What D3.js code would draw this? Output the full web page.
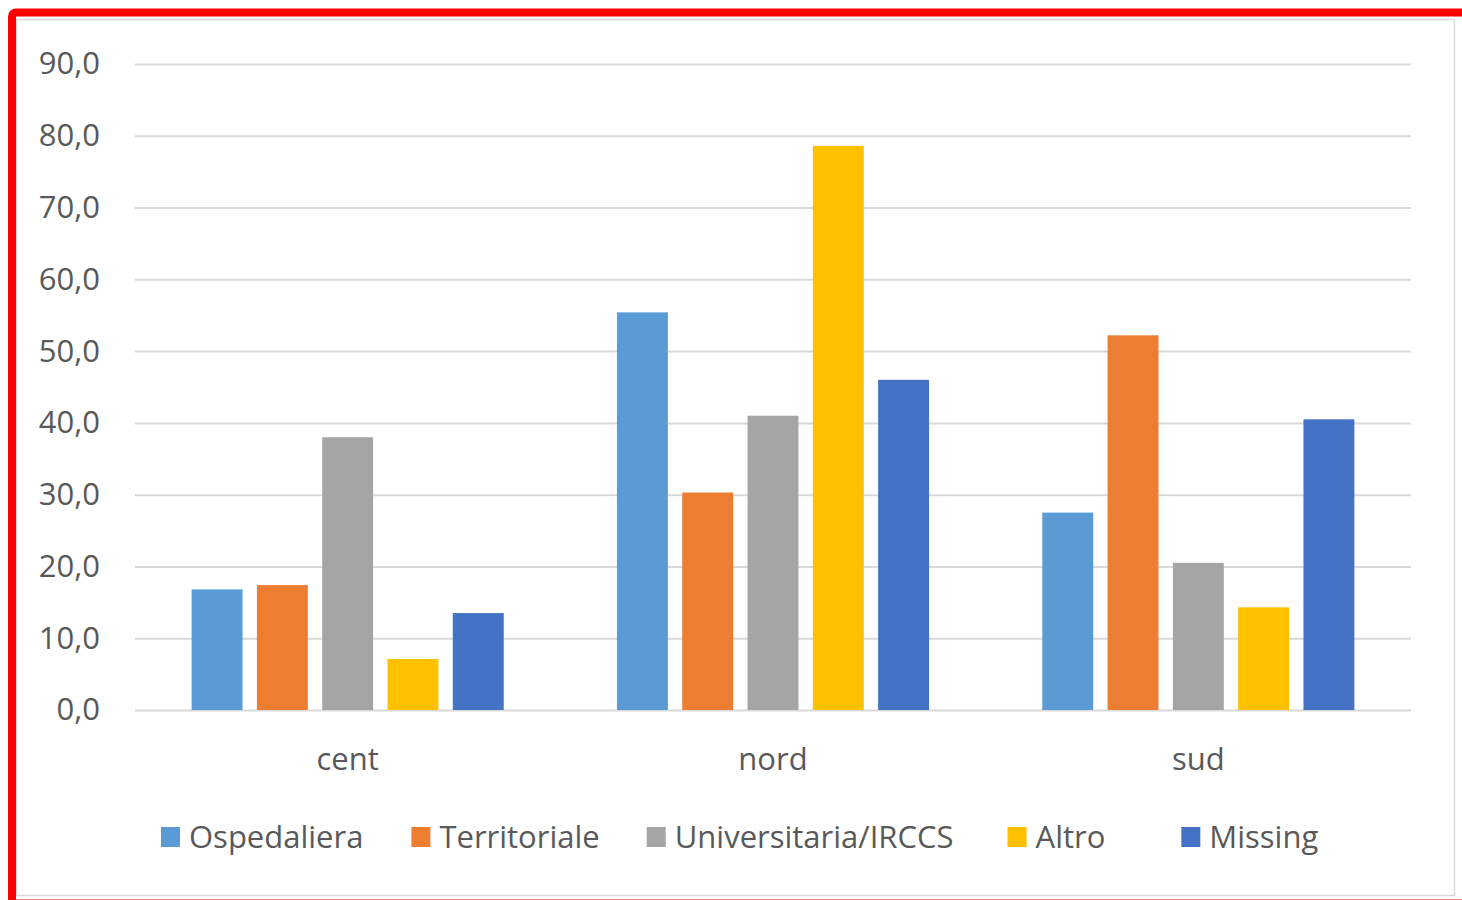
<!DOCTYPE html>
<html>
<head>
<meta charset="utf-8">
<script src="https://cdn.jsdelivr.net/npm/d3@7"></script>
<style>
  html, body { margin: 0; padding: 0; background: #fff; }
  svg { display: block; }
  text { font-family: "Open Sans", "Noto Sans", sans-serif; fill: #595959; }
</style>
</head>
<body>
<svg id="chart" width="1462" height="900"></svg>
<script>
// Regions (categories) and the five structure types (series)
const categories = ["cent", "nord", "sud"];
const seriesNames = ["Ospedaliera", "Territoriale", "Universitaria/IRCCS", "Altro", "Missing"];
const ospedaliera   = [16.8, 55.4, 27.5];
const territoriale  = [17.4, 30.3, 52.2];
const universitaria = [38.0, 41.0, 20.5];
const altro         = [7.1, 78.6, 14.3];
const missing       = [13.5, 46.0, 40.5];
const yTicks = [0, 10, 20, 30, 40, 50, 60, 70, 80, 90];
const seriesColors = ["#5B9BD5", "#ED7D31", "#A5A5A5", "#FFC000", "#4472C4"];

const seriesValues = [ospedaliera, territoriale, universitaria, altro, missing];
const rows = categories.map((c, i) => ({
  category: c,
  values: seriesNames.map((s, j) => ({ series: s, value: seriesValues[j][i], color: seriesColors[j] }))
}));

const svg = d3.select("#chart");
const plot = { left: 135, right: 1411, top: 64, bottom: 710 };

// Outer frames
svg.append("rect")
  .attr("x", 16.5).attr("y", 19.5).attr("width", 1438).attr("height", 876)
  .attr("fill", "#fff").attr("stroke", "#D9D9D9").attr("stroke-width", 1.5);
svg.append("rect")
  .attr("x", 12).attr("y", 12.5).attr("width", 1480).attr("height", 891)
  .attr("rx", 4).attr("fill", "none").attr("stroke", "#FF0000").attr("stroke-width", 8);

const x0 = d3.scaleBand().domain(categories).range([plot.left, plot.right]).padding(0);
const x1 = d3.scaleBand().domain(seriesNames).range([0, x0.bandwidth()])
  .paddingInner(0.22).paddingOuter(0.867);
const y = d3.scaleLinear().domain([0, 90]).range([plot.bottom, plot.top]);

const locale = d3.formatLocale({ decimal: ",", thousands: ".", grouping: [3], currency: ["", "€"] });
const fmt = locale.format(".1f");

// Horizontal gridlines + y tick labels
const yAxis = d3.axisLeft(y).tickValues(yTicks).tickFormat(fmt)
  .tickSize(-(plot.right - plot.left)).tickPadding(35);
const gy = svg.append("g").attr("transform", `translate(${plot.left},0)`).call(yAxis);
gy.select(".domain").remove();
gy.selectAll(".tick line").attr("stroke", "#D9D9D9").attr("stroke-width", 2);
gy.selectAll(".tick text")
  .attr("font-size", 31).attr("fill", "#595959")
  .style("font-family", "'Open Sans', 'Noto Sans', sans-serif");

// Bars
const groups = svg.append("g").selectAll("g")
  .data(rows).join("g")
  .attr("transform", d => `translate(${x0(d.category)},0)`);
groups.selectAll("rect")
  .data(d => d.values).join("rect")
  .attr("x", d => x1(d.series))
  .attr("width", x1.bandwidth())
  .attr("y", d => y(d.value))
  .attr("height", d => y(0) - y(d.value))
  .attr("fill", d => d.color);

// Category labels
const xAxis = d3.axisBottom(x0).tickSize(0).tickPadding(38);
const gx = svg.append("g").attr("transform", `translate(0,${plot.bottom})`).call(xAxis);
gx.select(".domain").remove();
gx.selectAll(".tick text")
  .attr("font-size", 31).attr("fill", "#595959")
  .style("font-family", "'Open Sans', 'Noto Sans', sans-serif");

// Legend, laid out item by item from the left
const legend = svg.append("g").attr("transform", "translate(161,848)");
const items = legend.selectAll("g").data(seriesNames).join("g");
items.append("rect")
  .attr("width", 19).attr("height", 20).attr("y", -21)
  .attr("fill", (d, i) => seriesColors[i]);
items.append("text")
  .attr("x", 28).attr("y", 0)
  .attr("font-size", 31)
  .text(d => d);
const gaps = [48, 47, 54, 76];
let cursor = 0;
const widths = [];
items.each(function () {
  widths.push(28 + d3.select(this).select("text").node().getComputedTextLength());
});
items.attr("transform", (d, i) => {
  const pos = cursor;
  cursor += widths[i] + (gaps[i] || 0);
  return `translate(${pos},0)`;
});
</script>
</body>
</html>
